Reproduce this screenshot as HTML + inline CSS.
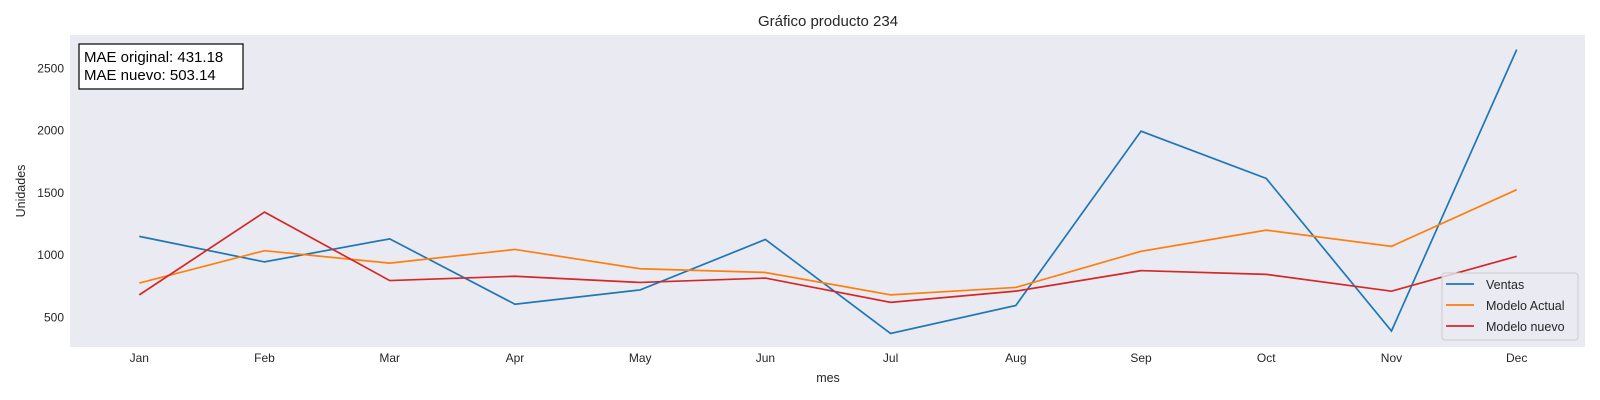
<!DOCTYPE html>
<html><head><meta charset="utf-8"><style>
html,body{margin:0;padding:0;background:#fff;}
svg{display:block;font-family:"Liberation Sans",Arial,sans-serif;}
</style></head><body>
<svg id="chart" width="1600" height="400" viewBox="0 0 1600 400">
<rect x="70" y="35" width="1515" height="312" fill="#eaeaf2"/>
<text x="828" y="26" font-size="15" fill="#262626" text-anchor="middle">Gráfico producto 234</text>
<text x="828" y="382" font-size="12.5" fill="#262626" text-anchor="middle">mes</text>
<text transform="translate(25,191) rotate(-90)" font-size="12.5" fill="#262626" text-anchor="middle">Unidades</text>
<g id="xticks"></g><g id="yticks"></g><g id="series"></g>
<g>
<rect x="79" y="44" width="164" height="45" fill="#fff" stroke="#000" stroke-width="1.2"/>
<text x="84" y="62" font-size="15" fill="#000">MAE original: 431.18</text>
<text x="84" y="80" font-size="15" fill="#000">MAE nuevo: 503.14</text>
</g>
<g>
<rect x="1442" y="273" width="136" height="67" rx="3" fill="#eaeaf2" fill-opacity="0.8" stroke="#cccccc"/>
<g><line x1="1446" y1="284" x2="1474" y2="284" stroke="#1f77b4" stroke-width="1.7"/><text x="1486" y="289" font-size="12.5" fill="#262626">Ventas</text></g>
<g><line x1="1446" y1="305" x2="1474" y2="305" stroke="#ff7f0e" stroke-width="1.7"/><text x="1486" y="310" font-size="12.5" fill="#262626">Modelo Actual</text></g>
<g><line x1="1446" y1="326" x2="1474" y2="326" stroke="#d62728" stroke-width="1.7"/><text x="1486" y="331" font-size="12.5" fill="#262626">Modelo nuevo</text></g>
</g>
</svg>
<script>
const months = ["Jan","Feb","Mar","Apr","May","Jun","Jul","Aug","Sep","Oct","Nov","Dec"];
const ventas = [1150,945,1130,605,720,1125,370,595,1995,1615,390,2650];
const modeloActual = [775,1035,935,1045,890,860,680,740,1030,1200,1070,1525];
const modeloNuevo = [680,1345,795,830,780,815,620,710,875,845,710,990];
const yTicks = [500,1000,1500,2000,2500];

const NS="http://www.w3.org/2000/svg";
function xs(i){return 139.3+i*(1516.7-139.3)/(months.length-1);}
function ys(v){return 68.3+(2500-v)*(249/2000);}
const xg=document.getElementById('xticks'), yg=document.getElementById('yticks'), sg=document.getElementById('series');
months.forEach((m,i)=>{
  const t=document.createElementNS(NS,'text');
  t.setAttribute('x',xs(i));t.setAttribute('y',362);t.setAttribute('font-size','12');
  t.setAttribute('fill','#262626');t.setAttribute('text-anchor','middle');t.textContent=m;
  
  
  xg.appendChild(t);
});
yTicks.forEach(v=>{
  const t=document.createElementNS(NS,'text');
  t.setAttribute('x',64);t.setAttribute('y',ys(v)+4);t.setAttribute('font-size','12');
  t.setAttribute('fill','#262626');t.setAttribute('text-anchor','end');t.textContent=v;
  
  
  yg.appendChild(t);
});
function line(data,color,name){
  const p=document.createElementNS(NS,'polyline');
  p.setAttribute('points',data.map((v,i)=>xs(i)+','+ys(v)).join(' '));
  p.setAttribute('fill','none');p.setAttribute('stroke',color);p.setAttribute('stroke-width','1.7');
  
  
  sg.appendChild(p);
}
line(ventas,'#1f77b4','ventas-line');
line(modeloActual,'#ff7f0e','modelo-actual-line');
line(modeloNuevo,'#d62728','modelo-nuevo-line');
</script>
</body></html>
